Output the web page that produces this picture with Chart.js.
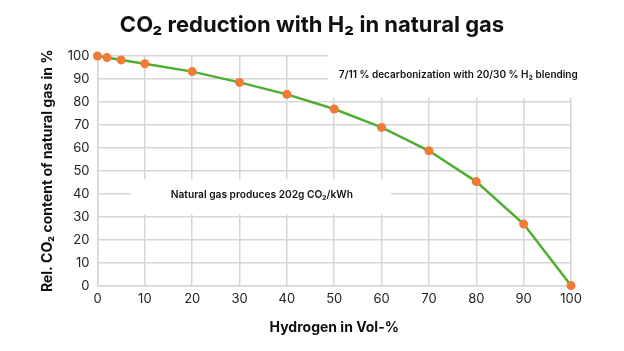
<!DOCTYPE html>
<html>
<head>
<meta charset="utf-8">
<script src="https://cdn.jsdelivr.net/npm/chart.js@4"></script>
<style>
  html, body { margin: 0; padding: 0; background: #fff; }
  #wrap { width: 624px; height: 351px; }
</style>
</head>
<body>
<div id="wrap"><canvas id="co2Chart"></canvas></div>
<script>
const hydrogenShare = [0, 2, 5, 10, 20, 30, 40, 50, 60, 70, 80, 90, 100];
const co2Content = [100, 99.3, 98.3, 96.6, 93.2, 88.5, 83.3, 76.9, 68.9, 58.7, 45.3, 26.8, 0];
const xTicks = [0, 10, 20, 30, 40, 50, 60, 70, 80, 90, 100];
const yTicks = [0, 10, 20, 30, 40, 50, 60, 70, 80, 90, 100];

const chartTitle = 'CO\u2082 reduction with H\u2082 in natural gas';
const fontFamily = 'Inter, "Noto Sans", sans-serif';

// Textboxen mit weißem Hintergrund über dem Raster
const notes = [
    { text: '7/11 % decarbonization with 20/30 % H\u2082 blending', size: 10, x: 76.2, y: 91.6, box: [48.7, 110, 100.6, 81.8] },
    { text: 'Natural gas produces 202g CO\u2082/kWh', size: 10.2, x: 34.7, y: 39.3, box: [7, 62, 46.3, 31] }
];

const notePlugin = {
    id: 'notes',
    beforeDatasetsDraw(chart) {
        const { ctx, scales: { x, y } } = chart;
        ctx.save();
        notes.forEach(n => {
            const x1 = x.getPixelForValue(n.box[0]);
            const x2 = Math.min(x.getPixelForValue(n.box[1]), chart.width);
            const y1 = y.getPixelForValue(n.box[2]);
            const y2 = y.getPixelForValue(n.box[3]);
            ctx.fillStyle = '#fff';
            ctx.fillRect(x1, y1, x2 - x1, y2 - y1);
            ctx.fillStyle = '#111';
            ctx.font = '600 ' + n.size + 'px ' + fontFamily;
            ctx.textAlign = 'center';
            ctx.textBaseline = 'middle';
            ctx.fillText(n.text, x.getPixelForValue(n.x), y.getPixelForValue(n.y));
        });
        ctx.restore();
    },
    // Titel mittig über die ganze Breite
    afterDraw(chart) {
        const ctx = chart.ctx;
        ctx.save();
        ctx.fillStyle = '#111';
        ctx.font = '700 22px ' + fontFamily;
        ctx.textAlign = 'center';
        ctx.textBaseline = 'middle';
        ctx.fillText(chartTitle, chart.width / 2, 25);
        ctx.restore();
    }
};

const co2Config = {
    type: 'line',
    data: {
        datasets: [{
            label: 'CO2',
            data: hydrogenShare.map((h, i) => ({ x: h, y: co2Content[i] })),
            borderColor: '#4fae32',
            borderWidth: 2.5,
            fill: false,
            tension: 0,
            clip: false,
            pointRadius: 4.5,
            pointBackgroundColor: '#f37a35',
            pointBorderWidth: 0
        }]
    },
    options: {
        responsive: true,
        maintainAspectRatio: false,
        animation: false,
        layout: { padding: { left: 35, right: 53, top: 56, bottom: 11 } },
        scales: {
            x: {
                type: 'linear',
                min: 0,
                max: 100,
                afterBuildTicks: axis => { axis.ticks = xTicks.map(v => ({ value: v })); },
                ticks: { color: '#222', font: { family: fontFamily, size: 13 }, padding: 6 },
                grid: { color: '#d6d6d6', lineWidth: 1.5, drawTicks: false },
                border: { color: '#d6d6d6', width: 1.5 },
                title: { display: true, text: 'Hydrogen in Vol-%', color: '#111', font: { family: fontFamily, size: 14, weight: '700' }, padding: { top: 6 } }
            },
            y: {
                min: 0,
                max: 100,
                afterBuildTicks: axis => { axis.ticks = yTicks.map(v => ({ value: v })); },
                ticks: { color: '#222', font: { family: fontFamily, size: 13 }, padding: 8 },
                grid: { color: '#d6d6d6', lineWidth: 1.5, drawTicks: false },
                border: { color: '#d6d6d6', width: 1.5 },
                title: { display: true, text: 'Rel. CO\u2082 content of natural gas in %', color: '#111', font: { family: fontFamily, size: 14, weight: '700' }, padding: { bottom: 4 } }
            }
        },
        plugins: {
            legend: { display: false },
            tooltip: { enabled: false },
            title: { display: false }
        }
    },
    plugins: [notePlugin]
};

const co2Chart = new Chart(document.getElementById('co2Chart'), co2Config);
</script>
</body>
</html>
